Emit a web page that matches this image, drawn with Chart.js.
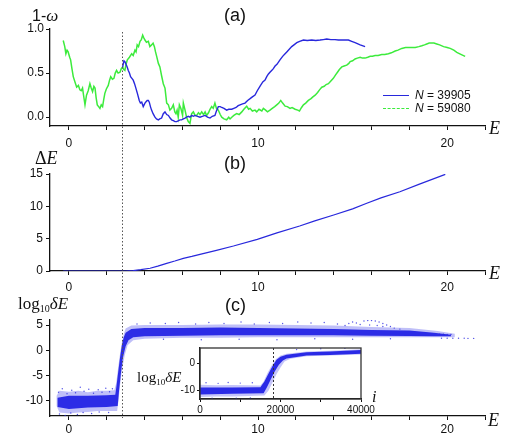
<!DOCTYPE html>
<html><head><meta charset="utf-8">
<script src="https://cdn.jsdelivr.net/npm/chart.js@4"></script>
<style>
html,body{margin:0;padding:0;background:#fff;}
#wrap{position:relative;width:510px;height:436px;overflow:hidden;background:#fff;}
canvas{position:absolute;left:0;}
.lbl{position:absolute;white-space:nowrap;color:#111;line-height:1;}
.sans{font-family:"Liberation Sans",Arial,sans-serif;}
.serif{font-family:"Liberation Serif","Times New Roman",serif;}
.leg{position:absolute;height:0;}
.sub{vertical-align:-3px;}
</style></head><body>
<div id="wrap">
<canvas id="ca" width="510" height="150" style="top:0"></canvas>
<canvas id="cb" width="510" height="150" style="top:145px"></canvas>
<canvas id="cc" width="510" height="145" style="top:291px"></canvas>
<canvas id="ci" width="220" height="80" style="top:340px;left:160px"></canvas>

<div class="lbl sans" style="left:32px;top:7px;font-size:16px;">1-<i class="serif" style="font-size:17px">ω</i></div>
<div class="lbl sans" style="left:224px;top:6px;font-size:18px;">(a)</div>
<div class="lbl sans" style="left:224px;top:154px;font-size:18px;">(b)</div>
<div class="lbl sans" style="left:225px;top:296px;font-size:18px;">(c)</div>
<div class="lbl serif" style="left:489px;top:119px;font-size:18px;"><i>E</i></div>
<div class="lbl serif" style="left:489px;top:264px;font-size:18px;"><i>E</i></div>
<div class="lbl serif" style="left:488px;top:411px;font-size:18px;"><i>E</i></div>
<div class="lbl serif" style="left:35px;top:149px;font-size:18px;">Δ<i>E</i></div>
<div class="lbl serif" style="left:18px;top:295px;font-size:17px;">log<span class="sub" style="font-size:10px">10</span><i>δE</i></div>
<div class="lbl serif" style="left:137px;top:370px;font-size:15px;">log<span class="sub" style="font-size:9px">10</span><i>δE</i></div>
<div class="lbl serif" style="left:372px;top:389px;font-size:16px;"><i>i</i></div>

<div class="leg" style="left:383px;top:95px;width:26px;border-top:1.3px solid rgb(40,40,220);"></div>
<div class="lbl sans" style="left:415px;top:89px;font-size:12px;"><i>N</i> = 39905</div>
<div class="leg" style="left:383px;top:108px;width:26px;border-top:1.3px dashed rgb(60,235,60);"></div>
<div class="lbl sans" style="left:415px;top:102px;font-size:12px;"><i>N</i> = 59080</div>
</div>
<script>
// ---------------- DATA ----------------
const xTicksMain = [0,2,4,6,8,10,12,14,16,18,20,22];
const xLabelsMain = [0,10,20];
const yTicksA = [0,0.5,1.0];
const yTicksB = [0,5,10,15];
const yTicksC = [-10,-5,0,5];
const xTicksInset = [0,10000,20000,30000,40000];
const xLabelsInset = [0,20000,40000];
const yTicksInset = [-10,0];
const divergenceE = 2.8;
const divergenceI = 18200;

// (a) 1-omega, N = 59080 (green)
const greenE = [-0.30,-0.22,-0.16,-0.10,-0.04,0.04,0.09,0.16,0.23,0.32,0.41,0.50,0.58,0.65,0.72,0.78,0.85,0.93,1.02,1.11,1.18,1.25,1.32,1.38,1.44,1.50,1.57,1.64,1.71,1.78,1.84,1.90,1.98,2.08,2.15,2.21,2.30,2.38,2.45,2.52,2.60,2.70,2.77,2.84,2.90,2.96,3.02,3.09,3.20,3.32,3.40,3.49,3.55,3.61,3.68,3.76,3.83,3.90,3.96,4.02,4.10,4.20,4.28,4.37,4.45,4.52,4.58,4.64,4.73,4.81,4.90,4.99,5.08,5.17,5.26,5.34,5.43,5.52,5.60,5.66,5.72,5.78,5.84,5.92,6.01,6.05,6.14,6.22,6.31,6.40,6.49,6.58,6.67,6.75,6.85,6.93,7.02,7.12,7.20,7.28,7.38,7.46,7.55,7.63,7.72,7.80,7.90,8.00,8.08,8.20,8.34,8.45,8.52,8.61,8.72,8.87,9.00,9.14,9.25,9.40,9.50,9.58,9.70,9.84,9.93,10.05,10.20,10.28,10.40,10.50,10.63,10.75,10.88,10.99,11.10,11.20,11.30,11.43,11.55,11.69,11.80,11.96,12.10,12.19,12.30,12.40,12.52,12.66,12.80,12.90,13.02,13.15,13.25,13.37,13.50,13.60,13.72,13.85,13.98,14.10,14.20,14.30,14.43,14.55,14.69,14.80,14.87,15.00,15.13,15.25,15.40,15.52,15.66,15.80,15.93,16.05,16.19,16.35,16.54,16.70,16.89,17.05,17.25,17.40,17.60,17.80,17.95,18.15,18.31,18.50,18.66,18.80,18.92,19.05,19.19,19.30,19.45,19.60,19.81,20.00,20.16,20.35,20.51,20.75,20.95];
const greenW = [0.87,0.80,0.72,0.76,0.74,0.68,0.65,0.55,0.46,0.40,0.34,0.36,0.31,0.30,0.33,0.24,0.14,0.25,0.30,0.38,0.33,0.29,0.35,0.33,0.22,0.14,0.12,0.10,0.14,0.12,0.20,0.27,0.32,0.36,0.42,0.46,0.43,0.44,0.50,0.53,0.50,0.51,0.55,0.57,0.54,0.53,0.60,0.65,0.68,0.72,0.70,0.76,0.74,0.82,0.80,0.86,0.88,0.93,0.90,0.875,0.85,0.86,0.80,0.82,0.84,0.80,0.74,0.69,0.61,0.57,0.47,0.38,0.33,0.16,0.14,0.08,0.10,0.14,0.06,0.04,0.08,0.00,0.14,0.10,0.02,0.16,0.08,0.00,-0.05,-0.07,0.04,0.06,0.02,0.02,0.05,0.03,0.06,0.03,0.06,0.02,0.05,0.09,0.12,0.10,0.16,0.10,0.08,0.03,0.00,-0.02,-0.03,0.00,-0.02,0.00,0.02,0.04,0.03,0.06,0.09,0.125,0.09,0.10,0.07,0.08,0.06,0.09,0.07,0.10,0.08,0.06,0.08,0.10,0.12,0.14,0.16,0.19,0.16,0.125,0.12,0.10,0.11,0.09,0.08,0.07,0.11,0.14,0.16,0.19,0.21,0.23,0.25,0.28,0.31,0.34,0.35,0.37,0.38,0.41,0.44,0.48,0.51,0.54,0.57,0.58,0.59,0.61,0.63,0.64,0.66,0.67,0.68,0.67,0.67,0.68,0.69,0.69,0.70,0.70,0.71,0.71,0.72,0.73,0.75,0.76,0.78,0.79,0.79,0.79,0.79,0.80,0.81,0.82,0.83,0.84,0.84,0.84,0.83,0.82,0.80,0.79,0.78,0.76,0.735,0.71,0.69];

// (a) 1-omega, N = 39905 (blue)
const blueE = [2.84,2.91,2.96,3.02,3.08,3.14,3.20,3.26,3.33,3.40,3.47,3.54,3.62,3.72,3.78,3.85,3.93,4.02,4.10,4.14,4.20,4.25,4.31,4.37,4.45,4.55,4.63,4.73,4.80,4.90,4.99,5.08,5.17,5.26,5.35,5.43,5.52,5.61,5.70,5.80,5.87,5.96,6.05,6.14,6.22,6.31,6.40,6.49,6.58,6.67,6.80,6.93,7.05,7.20,7.33,7.46,7.58,7.72,7.80,7.90,8.00,8.08,8.20,8.34,8.45,8.61,8.72,8.84,8.95,9.05,9.18,9.31,9.45,9.58,9.70,9.84,9.96,10.10,10.25,10.37,10.46,10.55,10.63,10.72,10.81,10.90,11.00,11.16,11.30,11.43,11.52,11.65,11.78,11.90,12.05,12.20,12.40,12.60,12.84,13.05,13.28,13.45,13.63,13.85,14.07,14.25,14.43,14.60,14.78,14.95,15.13,15.40,15.66];
const blueW = [0.57,0.64,0.63,0.60,0.57,0.53,0.50,0.46,0.44,0.42,0.38,0.33,0.27,0.19,0.16,0.17,0.12,0.16,0.18,0.19,0.19,0.17,0.12,0.08,0.04,0.00,-0.02,-0.03,-0.02,-0.01,0.04,0.06,0.03,0.02,-0.01,-0.03,-0.04,-0.05,-0.05,-0.04,-0.03,-0.03,-0.02,-0.01,0.00,0.01,0.00,0.02,0.01,0.02,0.01,0.00,0.01,0.02,0.00,-0.01,0.01,0.02,0.07,0.12,0.12,0.11,0.10,0.08,0.09,0.09,0.10,0.11,0.13,0.14,0.15,0.16,0.19,0.21,0.23,0.25,0.30,0.35,0.40,0.42,0.46,0.49,0.51,0.53,0.55,0.58,0.60,0.65,0.69,0.72,0.74,0.77,0.80,0.82,0.845,0.86,0.875,0.87,0.875,0.87,0.875,0.88,0.886,0.88,0.88,0.875,0.875,0.875,0.875,0.86,0.845,0.82,0.80];

// (b) Delta E
const dE_E = [-0.3,1,2,3,3.4,3.8,4.29,4.7,5.17,5.6,6.05,6.5,6.93,7.8,8.7,9.96,11,12.2,13,14.0,15,15.75,16.5,17.5,18.5,19.9];
const dE_V = [0,0,0,0,0.05,0.2,0.42,0.75,1.19,1.55,1.96,2.25,2.58,3.2,3.87,4.9,5.9,6.96,7.75,8.66,9.6,10.47,11.3,12.26,13.4,14.95];

// (c) log10 deltaE : envelope of the dense point cloud [E, value]
const cOuterTop = [[-0.65,-9.0],[-0.5,-8.0],[0,-8.2],[0.5,-8.0],[1.0,-8.3],[1.5,-8.0],[2.0,-8.0],[2.4,-7.9],[2.5,-6.5],[2.6,-3.5],[2.7,-0.8],[2.8,1.5],[2.9,3.2],[3.0,4.3],[3.3,4.9],[4,5.0],[6,5.0],[8,5.1],[10,5.1],[12,5.0],[14,4.9],[16,4.6],[18,4.4],[19.5,3.8],[20.4,3.3]];
const cOuterBottom = [[-0.65,-11.0],[-0.5,-12.3],[0,-12.5],[0.5,-12.3],[1.0,-12.2],[1.5,-12.0],[2.0,-12.0],[2.55,-12.0],[2.62,-10],[2.7,-7],[2.8,-4],[2.95,-1.0],[3.1,1.0],[3.4,2.0],[4,2.3],[6,2.5],[8,2.5],[10,2.6],[12,2.6],[14,2.6],[16,2.6],[18,2.6],[19.5,2.6],[20.4,2.6]];
const cCoreTop = [[-0.6,-9.4],[0,-9.0],[1,-9.0],[2,-8.9],[2.45,-8.8],[2.5,-7.5],[2.6,-4.5],[2.7,-1.5],[2.8,1.0],[2.9,2.6],[3.0,3.5],[3.3,4.2],[4,4.4],[6,4.4],[8,4.5],[10,4.4],[12,4.3],[14,4.2],[16,4.0],[18,3.9],[19.3,3.5],[20.2,3.1]];
const cCoreBottom = [[-0.6,-11.2],[0,-11.6],[1,-11.3],[2,-11.2],[2.58,-11.0],[2.65,-8],[2.75,-4.5],[2.85,-1.5],[3.0,0.8],[3.15,2.0],[3.4,2.6],[4,2.8],[6,2.9],[8,3.0],[10,3.0],[12,3.0],[14,3.0],[16,2.9],[18,2.85],[19.3,2.8],[20.2,2.8]];
// (c) isolated points outside the dense cloud
const cDotsE = [-0.55,-0.35,-0.1,0.15,0.35,0.6,0.8,1.05,1.3,1.55,1.75,1.95,2.15,2.3,-0.5,-0.2,0.1,0.45,0.75,1.2,1.6,2.1,3.6,4.3,5.1,5.8,6.7,7.4,8.2,9.1,9.8,10.6,11.3,12.1,12.8,13.5,14.2,14.6,14.8,15.0,15.2,15.4,15.6,15.8,16.0,16.2,16.4,16.6,16.8,17.0,17.2,17.5,15.9,16.3,16.6,5,7,9,11,13,15,17,19.6,19.8,20.0,20.2,19.7,20.0,20.3,20.6,20.9,21.1,21.4];
const cDotsV = [-8.3,-7.6,-8.6,-7.9,-8.4,-7.3,-8.1,-7.7,-8.5,-7.8,-8.3,-7.5,-8.2,-7.6,-12.6,-12.9,-12.4,-12.7,-12.3,-12.5,-12.2,-12.3,5.2,5.4,5.3,5.5,5.2,5.5,5.3,5.6,5.2,5.5,5.3,5.6,5.4,5.5,5.2,4.9,5.3,5.6,5.4,5.1,5.8,5.9,5.9,5.8,5.6,5.3,5.0,4.7,4.4,4.2,5.0,4.9,4.7,2.2,2.1,2.2,2.1,2.3,2.2,2.3,3.2,3.2,3.15,3.15,2.4,2.4,2.4,2.38,2.38,2.36,2.36];

// inset: log10 deltaE vs i : envelope [i, value]
const iOuterTop = [[0,-8.0],[4000,-8.2],[8000,-8.1],[12000,-8.2],[15000,-8.3],[15800,-6.8],[16800,-3.6],[17800,-0.9],[18800,1.4],[20000,2.8],[21500,3.5],[26500,4.3],[32300,4.6],[40000,5.1]];
const iOuterBottom = [[0,-12.6],[4000,-12.4],[8000,-12.4],[12000,-12.2],[16000,-12.0],[17000,-10.2],[18000,-7.2],[19000,-4.1],[20000,-1.6],[21000,0.6],[22500,1.6],[26500,2.5],[32300,2.8],[40000,3.2]];
const iCoreTop = [[0,-9.0],[8000,-9.0],[15000,-8.9],[16000,-6.8],[17000,-3.9],[18000,-1.2],[19000,1.2],[20000,2.4],[21500,3.1],[26500,4.0],[32300,4.3],[40000,4.9]];
const iCoreBottom = [[0,-11.6],[8000,-11.4],[15800,-11.2],[16600,-9.0],[17600,-6.0],[18600,-3.0],[19600,-0.6],[20600,1.0],[21500,1.7],[26500,2.8],[32300,3.0],[40000,3.5]];
const iDotsX = [1500,4500,7000,10000,13000,3000,9000,12500,24000,30000,36000];
const iDotsV = [-7.3,-7.5,-7.2,-7.4,-7.3,-13.0,-13.0,-12.9,5.0,5.3,5.5];

// ---------------- RENDER ----------------
const SANS = '"Liberation Sans", Arial, sans-serif';
const BLUE = 'rgb(40,40,220)';
const GREEN = 'rgb(60,235,60)';
const pts = (xs, ys) => xs.map((x, k) => ({x: x, y: ys[k]}));
const poly = (top, bottom) => top.concat(bottom.slice().reverse()).map(p => ({x: p[0], y: p[1]}));

function axisX(min, max, ticks, labels, o) {
  return {type:'linear', position:'bottom', min:min, max:max,
    afterBuildTicks: s => { s.ticks = ticks.map(v => ({value: v})); },
    afterFit: s => { s.height = o.h; },
    ticks:{autoSkip:false, maxRotation:0, minRotation:0, padding:o.pad, color:'#111',
      font:{family:SANS, size:o.fs}, callback: v => labels.includes(v) ? String(v) : ''},
    grid:{display:true, drawOnChartArea:false, drawTicks:true, tickLength:o.tl, tickColor:'#111', tickWidth:1},
    border:{display:true, color:'#111', width:1.3}};
}
function axisY(min, max, ticks, fmt, o) {
  return {type:'linear', position:'left', min:min, max:max,
    afterBuildTicks: s => { s.ticks = ticks.map(v => ({value: v})); },
    afterFit: s => { s.width = o.w; },
    ticks:{autoSkip:false, padding:o.pad, color:'#111', font:{family:SANS, size:o.fs}, callback: fmt},
    grid:{display:true, drawOnChartArea:false, drawTicks:true, tickLength:o.tl, tickColor:'#111', tickWidth:1},
    border:{display:true, color:'#111', width:1.3}};
}
function vline(val, y0, y1, dash, color) {
  return {id:'vline', afterDatasetsDraw(chart) {
    const ctx = chart.ctx, a = chart.chartArea;
    const x = Math.round(chart.scales.x.getPixelForValue(val)) + 0.5;
    ctx.save(); ctx.strokeStyle = color; ctx.lineWidth = 1; ctx.setLineDash(dash);
    ctx.beginPath(); ctx.moveTo(x, y0 == null ? a.top : y0); ctx.lineTo(x, y1 == null ? a.bottom : y1);
    ctx.stroke(); ctx.restore();
  }};
}
const base = (pad) => ({responsive:false, animation:false, devicePixelRatio:1, events:[],
  layout:{padding:pad}, plugins:{legend:{display:false}, tooltip:{enabled:false}}});
const lineDs = (data, color, w) => ({data:data, showLine:true, borderColor:color, borderWidth:w,
  pointRadius:0, fill:false, tension:0});
const shapeDs = (data, color) => ({data:data, showLine:true, borderWidth:0, borderColor:'rgba(0,0,0,0)',
  backgroundColor:color, pointRadius:0, fill:'shape', tension:0});
const dotDs = (data, color, r) => ({data:data, showLine:false, pointRadius:r, pointBackgroundColor:color,
  pointBorderWidth:0, backgroundColor:color});

// chart (a)
new Chart(document.getElementById('ca'), {type:'scatter',
  data:{datasets:[lineDs(pts(blueE, blueW), BLUE, 1.4), lineDs(pts(greenE, greenW), GREEN, 1.5)]},
  options:Object.assign(base({left:0, right:25, top:29, bottom:0}), {scales:{
    x: axisX(-1, 22, xTicksMain, xLabelsMain, {h:24, pad:6, fs:12, tl:4}),
    y: axisY(-0.1, 1.0, yTicksA, v => v.toFixed(1), {w:50, pad:2, fs:12, tl:4})}}),
  plugins:[vline(divergenceE, 32, 150, [1.5,2], '#555')]});

// chart (b)
new Chart(document.getElementById('cb'), {type:'scatter',
  data:{datasets:[lineDs(pts(dE_E, dE_V), BLUE, 1.2)]},
  options:Object.assign(base({left:0, right:25, top:29, bottom:0}), {scales:{
    x: axisX(-1, 22, xTicksMain, xLabelsMain, {h:24, pad:5, fs:12, tl:4}),
    y: axisY(0, 15, yTicksB, v => String(v), {w:50, pad:3, fs:12, tl:4})}}),
  plugins:[vline(divergenceE, 5, 146, [1.5,2], '#555')]});

// chart (c)
new Chart(document.getElementById('cc'), {type:'scatter',
  data:{datasets:[
    dotDs(pts(cDotsE, cDotsV), 'rgba(40,40,225,0.8)', 0.7),
    shapeDs(poly(cCoreTop, cCoreBottom), 'rgba(28,28,228,0.9)'),
    shapeDs(poly(cOuterTop, cOuterBottom), 'rgba(60,60,235,0.33)')]},
  options:Object.assign(base({left:0, right:25, top:29, bottom:0}), {scales:{
    x: axisX(-1, 22, xTicksMain, xLabelsMain, {h:20, pad:2, fs:12, tl:4}),
    y: axisY(-13, 6, yTicksC, v => String(v), {w:50, pad:3, fs:12, tl:4})}}),
  plugins:[vline(divergenceE, 0, 127, [1.5,2], '#555')]});

// inset
const frame = {id:'frame',
  beforeDraw(chart) { const a = chart.chartArea, c = chart.ctx; c.save(); c.fillStyle = '#fff';
    c.fillRect(a.left, a.top, a.right - a.left, a.bottom - a.top); c.restore(); },
  afterDraw(chart) { const a = chart.chartArea, c = chart.ctx; c.save(); c.strokeStyle = '#333'; c.lineWidth = 1.3;
    c.strokeRect(a.left, a.top, a.right - a.left, a.bottom - a.top); c.restore(); }};
new Chart(document.getElementById('ci'), {type:'scatter',
  data:{datasets:[
    dotDs(pts(iDotsX, iDotsV), 'rgba(40,40,225,0.8)', 0.7),
    shapeDs(poly(iCoreTop, iCoreBottom), 'rgba(28,28,228,0.92)'),
    shapeDs(poly(iOuterTop, iOuterBottom), 'rgba(60,60,235,0.3)')]},
  options:Object.assign(base({left:0, right:19, top:8, bottom:0}), {scales:{
    x: axisX(0, 40000, xTicksInset, xLabelsInset, {h:21, pad:2, fs:10, tl:3}),
    y: axisY(-13.3, 5.6, yTicksInset, v => String(v), {w:40, pad:2, fs:10, tl:3})}}),
  plugins:[frame, vline(divergenceI, null, null, [2,2], '#333')]});
</script>
</body></html>
